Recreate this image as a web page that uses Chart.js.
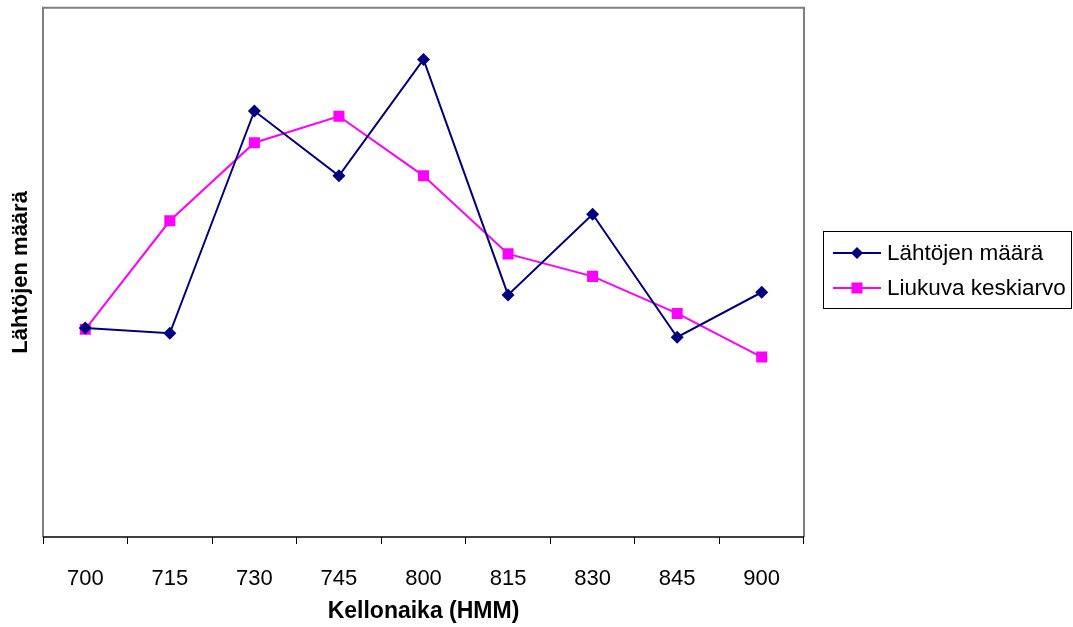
<!DOCTYPE html>
<html>
<head>
<meta charset="utf-8">
<script src="https://cdn.jsdelivr.net/npm/chart.js@4"></script>
<style>
html,body{margin:0;padding:0;background:#fff;}
#wrap{width:1073px;height:627px;position:relative;}
</style>
</head>
<body>
<div id="wrap"><canvas id="c" width="1073" height="627"></canvas></div>
<script>
const categories = ['700','715','730','745','800','815','830','845','900'];
const departures = [15.8, 15.4, 32.2, 27.3, 36.1, 18.3, 24.4, 15.1, 18.5];
const movingAverage = [15.7, 23.9, 29.8, 31.8, 27.3, 21.4, 19.7, 16.9, 13.6];
const seriesNames = ['Lähtöjen määrä', 'Liukuva keskiarvo'];
const yTitle = 'Lähtöjen määrä';
const xTitle = 'Kellonaika (HMM)';

const FONT = '"Liberation Sans", Arial, sans-serif';

const frame = {
  id: 'frame',
  afterDraw(chart) {
    const ctx = chart.ctx, a = chart.chartArea;
    ctx.save();
    ctx.strokeStyle = '#808080';
    ctx.lineWidth = 2;
    ctx.beginPath();
    ctx.moveTo(a.left, a.bottom);
    ctx.lineTo(a.left, a.top);
    ctx.lineTo(a.right, a.top);
    ctx.lineTo(a.right, a.bottom);
    ctx.stroke();
    ctx.strokeStyle = '#000';
    ctx.lineWidth = 1.5;
    ctx.beginPath();
    ctx.moveTo(a.left, a.bottom);
    ctx.lineTo(a.right, a.bottom);
    ctx.stroke();
    // legend box
    const bx = 823.5, by = 231.5, bw = 248, bh = 77;
    ctx.strokeStyle = '#000';
    ctx.lineWidth = 1;
    ctx.strokeRect(bx, by, bw, bh);
    const rows = [253, 288];
    chart.data.datasets.forEach((ds, i) => {
      const y = rows[i];
      ctx.strokeStyle = ds.borderColor;
      ctx.lineWidth = 2;
      ctx.beginPath();
      ctx.moveTo(833, y);
      ctx.lineTo(881, y);
      ctx.stroke();
      ctx.fillStyle = ds.backgroundColor;
      ctx.beginPath();
      if (ds.pointStyle === 'rectRot') {
        ctx.moveTo(857, y - 6); ctx.lineTo(863, y); ctx.lineTo(857, y + 6); ctx.lineTo(851, y);
        ctx.closePath();
      } else {
        ctx.rect(851.5, y - 5.5, 11, 11);
      }
      ctx.fill();
      ctx.fillStyle = '#000';
      ctx.font = '22.5px ' + FONT;
      ctx.textBaseline = 'middle';
      ctx.textAlign = 'left';
      ctx.fillText(ds.label, 887, y + 1);
    });
    ctx.restore();
  }
};

new Chart(document.getElementById('c'), {
  type: 'line',
  data: {
    labels: categories,
    datasets: [
      {
        label: seriesNames[0],
        data: departures,
        borderColor: '#000080',
        backgroundColor: '#000080',
        borderWidth: 2,
        pointStyle: 'rectRot',
        pointRadius: 6.5,
        pointHoverRadius: 6.5,
        pointBorderWidth: 0,
        tension: 0
      },
      {
        label: seriesNames[1],
        data: movingAverage,
        borderColor: '#FF00FF',
        backgroundColor: '#FF00FF',
        borderWidth: 2,
        pointStyle: 'rect',
        pointRadius: 7.8,
        pointHoverRadius: 7.8,
        pointBorderWidth: 0,
        tension: 0
      }
    ]
  },
  options: {
    responsive: false,
    animation: false,
    events: [],
    layout: { padding: { top: 5, right: 269, left: 0, bottom: 0 } },
    plugins: { legend: { display: false }, tooltip: { enabled: false } },
    scales: {
      x: {
        offset: true,
        grid: {
          offset: true,
          drawOnChartArea: false,
          drawTicks: true,
          tickLength: 7,
          color: '#000',
          lineWidth: 1
        },
        border: { display: false },
        ticks: { color: '#000', font: { family: FONT, size: 22 }, padding: 22, maxRotation: 0 },
        title: { display: true, text: xTitle, color: '#000', font: { family: FONT, size: 23, weight: 'bold' }, padding: { top: 0, bottom: 2 } },
        afterFit(s) { s.height = 90; }
      },
      y: {
        min: 0,
        max: 40,
        grid: { display: false },
        border: { display: false },
        ticks: { display: false },
        title: { display: true, text: yTitle, color: '#000', font: { family: FONT, size: 22, weight: 'bold' }, padding: { top: 8, bottom: 0 } },
        afterFit(s) { s.width = 43; }
      }
    }
  },
  plugins: [frame]
});
</script>
</body>
</html>
